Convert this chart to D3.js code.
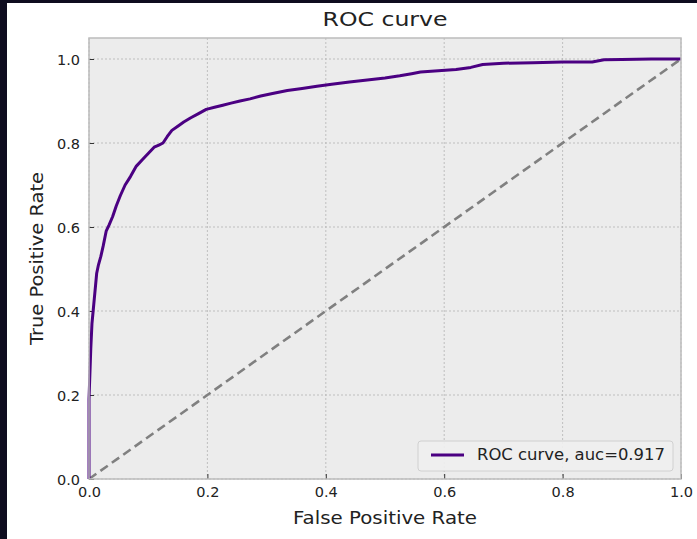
<!DOCTYPE html>
<html><head><meta charset="utf-8">
<script src="https://cdn.jsdelivr.net/npm/d3@7"></script>
<style>html,body{margin:0;padding:0;background:#fff;}svg{display:block;}</style>
</head><body>
<svg id="chart" width="697" height="539"></svg>
<script>
const fpr = [0,0,0.002,0.003,0.004,0.005,0.007,0.009,0.011,0.013,0.016,0.020,0.024,0.029,0.034,0.040,0.046,0.053,0.061,0.070,0.080,0.090,0.100,0.110,0.118,0.125,0.132,0.140,0.150,0.160,0.172,0.185,0.198,0.212,0.226,0.240,0.255,0.272,0.290,0.310,0.335,0.360,0.385,0.410,0.440,0.470,0.500,0.525,0.545,0.560,0.590,0.620,0.645,0.665,0.700,0.750,0.800,0.850,0.870,0.900,0.950,1.0];
const tpr = [0,0.19,0.27,0.31,0.34,0.37,0.40,0.43,0.46,0.49,0.51,0.53,0.555,0.59,0.605,0.625,0.65,0.675,0.70,0.72,0.745,0.76,0.775,0.79,0.795,0.80,0.815,0.83,0.84,0.85,0.86,0.87,0.88,0.885,0.89,0.895,0.90,0.905,0.912,0.918,0.925,0.93,0.935,0.94,0.945,0.95,0.955,0.96,0.965,0.969,0.972,0.975,0.98,0.987,0.99,0.991,0.993,0.993,0.998,0.999,1.0,1.0];
const diagX = [0,1];
const diagY = [0,1];
const xTicks = [0,0.2,0.4,0.6,0.8,1.0];
const yTicks = [0,0.2,0.4,0.6,0.8,1.0];
const titleText = "ROC curve";
const xLabel = "False Positive Rate";
const yLabel = "True Positive Rate";
const legendLabel = "ROC curve, auc=0.917";

const svg = d3.select("#chart");
const font = "'DejaVu Sans', sans-serif";
svg.append("rect").attr("x",0).attr("y",0).attr("width",697).attr("height",3).attr("fill","#0e0c1f");
svg.append("rect").attr("x",0).attr("y",0).attr("width",7).attr("height",539).attr("fill","#0e0c1f");

const L=89,R=681,T=38,B=479;
const x = d3.scaleLinear().domain([0,1]).range([L,R]);
const y = d3.scaleLinear().domain([0,1.05]).range([B,T]);

svg.append("rect").attr("x",L).attr("y",T).attr("width",R-L).attr("height",B-T).attr("fill","#ececec");

const g = svg.append("g");
g.selectAll(".gx").data(xTicks).join("line").attr("x1",d=>x(d)).attr("x2",d=>x(d)).attr("y1",T).attr("y2",B)
 .attr("stroke","#b4b4b4").attr("stroke-width",0.8).attr("stroke-dasharray","2,2");
g.selectAll(".gy").data(yTicks).join("line").attr("y1",d=>y(d)).attr("y2",d=>y(d)).attr("x1",L).attr("x2",R)
 .attr("stroke","#b4b4b4").attr("stroke-width",0.8).attr("stroke-dasharray","2,2");

const xa = svg.append("g").attr("transform",`translate(0,${B})`)
  .call(d3.axisBottom(x).tickValues(xTicks).tickFormat(d3.format(".1f")).tickSizeInner(-5).tickSizeOuter(0).tickPadding(6));
const ya = svg.append("g").attr("transform",`translate(${L},0)`)
  .call(d3.axisLeft(y).tickValues(yTicks).tickFormat(d3.format(".1f")).tickSizeInner(-5).tickSizeOuter(0).tickPadding(9));
[xa,ya].forEach(a=>{
  a.select(".domain").remove();
  a.selectAll(".tick line").attr("stroke","#333").attr("stroke-width",1);
  a.selectAll(".tick text").attr("font-family",font).attr("font-size",14.5).attr("fill","#222");
});
xa.selectAll(".tick text").attr("dy","0.85em");
ya.selectAll(".tick text").attr("dy","0.35em");

svg.append("path").datum(diagX.map((d,i)=>[d,diagY[i]]))
  .attr("d",d3.line().x(d=>x(d[0])).y(d=>y(d[1])))
  .attr("fill","none").attr("stroke","#808080").attr("stroke-width",2.6).attr("stroke-dasharray","9,5");

svg.append("path").datum(fpr.map((d,i)=>[d,tpr[i]]))
  .attr("d",d3.line().x(d=>x(d[0])).y(d=>y(d[1])))
  .attr("fill","none").attr("stroke","#4b0082").attr("stroke-width",3).attr("stroke-linejoin","round");

svg.append("rect").attr("x",L).attr("y",T).attr("width",R-L).attr("height",B-T)
  .attr("fill","none").attr("stroke","#bcbcbc").attr("stroke-width",1.5);

const lg = svg.append("g");
lg.append("rect").attr("x",418).attr("y",441).attr("width",255).attr("height",30).attr("rx",3)
  .attr("fill","#f0f0f0").attr("fill-opacity",0.9).attr("stroke","#d0d0d0").attr("stroke-width",1);
lg.append("line").attr("x1",431).attr("x2",464).attr("y1",455).attr("y2",455).attr("stroke","#4b0082").attr("stroke-width",3);
lg.append("text").attr("x",477).attr("y",455).attr("dy","0.35em").attr("font-family",font).attr("font-size",15.5).attr("fill","#222")
  .attr("textLength",188).attr("lengthAdjust","spacingAndGlyphs").text(legendLabel);

svg.append("text").attr("x",(L+R)/2).attr("y",19).attr("dy","0.35em").attr("text-anchor","middle")
  .attr("font-family",font).attr("font-size",20).attr("fill","#222")
  .attr("textLength",125).attr("lengthAdjust","spacingAndGlyphs").text(titleText);
svg.append("text").attr("x",(L+R)/2).attr("y",518).attr("dy","0.35em").attr("text-anchor","middle")
  .attr("font-family",font).attr("font-size",18.5).attr("fill","#222")
  .attr("textLength",184).attr("lengthAdjust","spacingAndGlyphs").text(xLabel);
svg.append("text").attr("transform",`translate(37,${(T+B)/2}) rotate(-90)`).attr("dy","0.35em").attr("text-anchor","middle")
  .attr("font-family",font).attr("font-size",18.5).attr("fill","#222")
  .attr("textLength",173).attr("lengthAdjust","spacingAndGlyphs").text(yLabel);
</script>
</body></html>
